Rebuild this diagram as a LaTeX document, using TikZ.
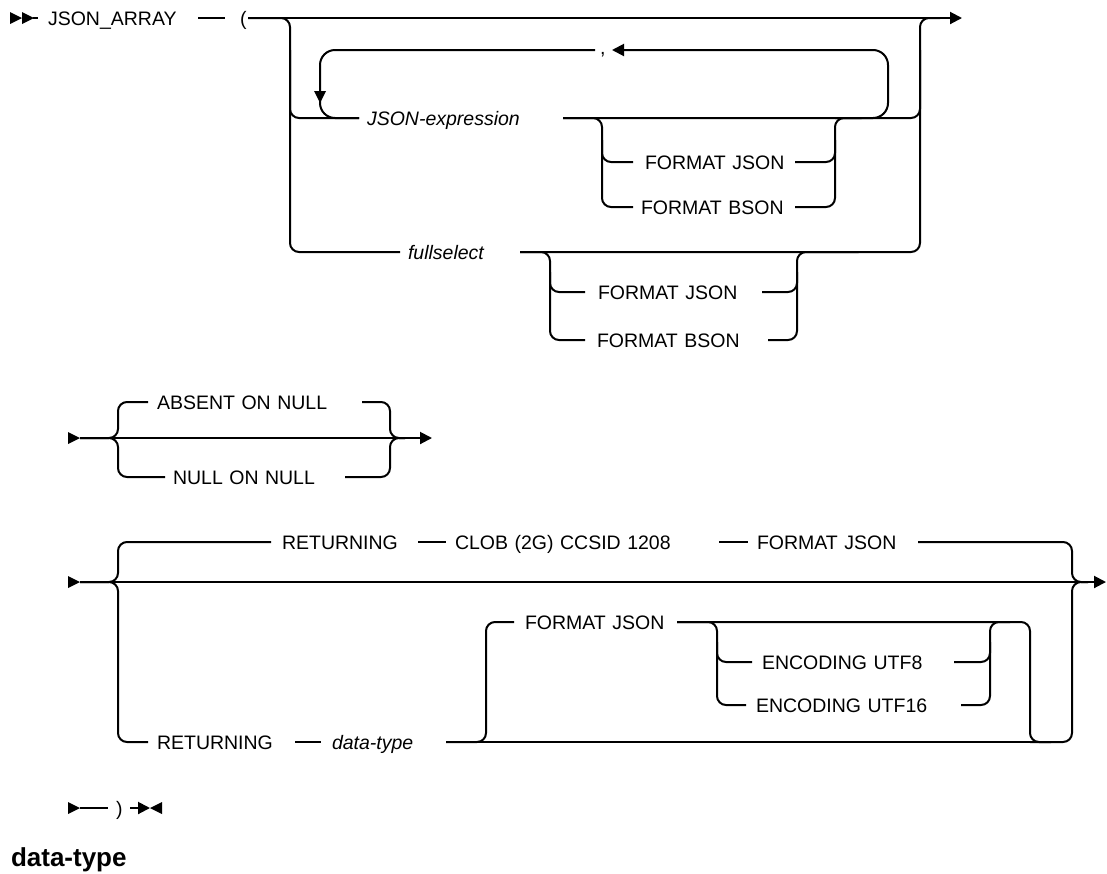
\documentclass[tikz,border=0pt]{standalone}
\usepackage{fontspec}
\setmainfont{Liberation Sans}
\usetikzlibrary{arrows.meta,calc}
\newcommand\rrfont{\fontsize{19.5}{22}\selectfont}
\tikzset{
  t/.style={anchor=west, inner sep=0pt, outer sep=0pt, text height=14pt, text depth=0pt, align=left, font=\rrfont},
  rc/.style={rounded corners=9pt},
  arr/.style={-{Triangle[length=12pt,width=12pt]}},
  sarrow/.pic={\fill (-12,-6) -- (0,0) -- (-12,6) -- cycle;},
  dstart/.pic={\fill (-28,-6) -- (-16,0) -- (-28,6) -- cycle;
               \fill (-16,-6) -- (-4,0) -- (-16,6) -- cycle;
               \draw (-5,0) -- (0,0);},
  eend/.pic={\fill (12,-6) -- (0,0) -- (12,6) -- cycle;}
}
% name, x left line end, x text start, x right line start, y, text
\newcommand\rrbox[6]{\node[t, text width=#4pt-#2pt] (#1) at (#2,#5) {\hspace*{\dimexpr #3pt-#2pt\relax}#6};}
\begin{document}
\begin{tikzpicture}[x=1pt,y=-1pt,line width=2pt]
\useasboundingbox (0,0) rectangle (1107,873);

% ---------- coordinates ----------
\coordinate (s1) at (38,18);
\coordinate (L1) at (290,18);
\coordinate (R1) at (920,18);
\coordinate (j1) at (940,18);
\coordinate (e1) at (962,18);
\coordinate (loopL) at (320,50);
\coordinate (loopR) at (888,50);
\coordinate (f1L) at (602,118);
\coordinate (f1R) at (835,118);
\coordinate (f2L) at (550,252);
\coordinate (f2R) at (797,252);
\coordinate (s2) at (80,438);
\coordinate (B2L) at (118,438);
\coordinate (B2R) at (390,438);
\coordinate (j2) at (405,438);
\coordinate (e2) at (432,438);
\coordinate (s3) at (80,582);
\coordinate (B3L) at (118,582);
\coordinate (B3R) at (1072,582);
\coordinate (j3) at (1088,582);
\coordinate (e3) at (1106,582);
\coordinate (N3L) at (486,742);
\coordinate (N3R) at (1030,742);
\coordinate (E3L) at (717,622);
\coordinate (E3R) at (990,622);
\coordinate (s4) at (80,808);
\coordinate (e4) at (150,808);

% ---------- text nodes ----------
\rrbox{jarr}{38}{48}{198}{18}{JSON\_ARRAY}
\rrbox{lpar}{225}{240}{248}{18}{(}
\node[t, text height=8pt, text width=17pt] (comma) at (595,50) {\hspace*{5pt},};
\rrbox{jexpr}{359}{367}{563}{118}{\itshape JSON-expression}
\rrbox{fj1}{633}{645}{795}{162}{FORMAT JSON}
\rrbox{fb1}{633}{641}{795}{207}{FORMAT BSON}
\rrbox{fsel}{400}{408}{520}{252}{\itshape fullselect}
\rrbox{fj2}{585}{598}{762}{292}{FORMAT JSON}
\rrbox{fb2}{585}{597}{768}{340}{FORMAT BSON}

\rrbox{abs}{148}{157}{362}{402}{ABSENT ON NULL}
\rrbox{nul}{165}{173}{345}{477}{NULL ON NULL}

\rrbox{retA}{271}{282}{418}{542}{RETURNING}
\rrbox{clob}{446}{455}{719}{542}{CLOB (2G) CCSID 1208}
\rrbox{fmtA}{748}{757}{918}{542}{FORMAT JSON}
\rrbox{retB}{148}{157}{295}{742}{RETURNING}
\rrbox{dtype}{321}{332}{446}{742}{\itshape data-type}
\rrbox{fmtB}{514}{525}{677}{622}{FORMAT JSON}
\rrbox{encA}{752}{762}{954}{662}{ENCODING UTF8}
\rrbox{encB}{746}{756}{961}{705}{ENCODING UTF16}

\rrbox{rpar}{108}{116}{130}{808}{)}

\node[anchor=base west, inner sep=0pt, font=\bfseries\fontsize{26}{30}\selectfont] (dthead) at (10,866) {data-type};

% ---------- row 1 ----------
\pic at (s1) {dstart};
\draw (jarr.east) -- (lpar.west);
\draw[arr] (lpar.east) -- (e1);
\draw[rc] (lpar.east) -| (L1 |- fsel.west) -- (fsel.west);
\draw[rc] (L1 |- loopL) |- (jexpr.west);
\draw[rounded corners=15pt] (comma.west) -| (loopL |- jexpr.west) -- (jexpr.west);
\fill ($(loopL)+(-6,41)$) -- ++(12,0) -- ++(-6,12) -- cycle;
\draw[rounded corners=15pt, arr] (f1R) -| (loopR) -- (comma.east);
\draw[rc] (jexpr.east) -| (R1 |- loopL);
\draw[rc] (fsel.east) -| (R1) -- (j1);

\draw[rc] (jexpr.east) -| (f1L |- fb1.west) -- (fb1.west);
\draw[rc] ($(f1L)!0.5!(f1L |- fj1.west)$) |- (fj1.west);
\draw[rc] (fb1.east) -| (f1R) -- ($(f1R)!0.5!(loopR |- f1R)$);
\draw[rc] (fj1.east) -| ($(f1R)!0.5!(f1R |- fj1.east)$);

\draw[rc] (fsel.east) -| (f2L |- fb2.west) -- (fb2.west);
\draw[rc] ($(f2L)!0.5!(f2L |- fj2.west)$) |- (fj2.west);
\draw[rc] (fb2.east) -| (f2R) -- ($(f2R)!0.5!(R1 |- f2R)$);
\draw[rc] (fj2.east) -| ($(f2R)!0.5!(f2R |- fj2.east)$);

% ---------- row 2 ----------
\pic at (s2) {sarrow};
\draw[arr] (s2) -- (e2);
\draw[rc] (s2) -| (B2L |- abs.west) -- (abs.west);
\draw[rc] (s2) -| (B2L |- nul.west) -- (nul.west);
\draw[rc] (abs.east) -| (B2R) -- (j2);
\draw[rc] (nul.east) -| (B2R) -- (j2);

% ---------- row 3 ----------
\pic at (s3) {sarrow};
\draw[arr] (s3) -- (e3);
\draw[rc] (s3) -| (B3L |- retA.west) -- (retA.west);
\draw[rc] (s3) -| (B3L |- retB.west) -- (retB.west);
\draw (retA.east) -- (clob.west);
\draw (clob.east) -- (fmtA.west);
\draw[rc] (fmtA.east) -| (B3R) -- (j3);
\draw (retB.east) -- (dtype.west);
\draw (dtype.east) -- (N3R);
\draw[rc] (N3R) -| (B3R) -- (j3);
\draw[rc] (dtype.east) -| (N3L |- fmtB.west) -- (fmtB.west);
\draw[rc] (fmtB.east) -| (N3R) -- ($(N3R)!0.5!(B3R |- N3R)$);
\draw[rc] (fmtB.east) -| (E3L |- encB.west) -- (encB.west);
\draw[rc] ($(E3L)!0.5!(E3L |- encA.west)$) |- (encA.west);
\draw[rc] (encB.east) -| (E3R) -- ($(E3R)!0.5!(N3R |- E3R)$);
\draw[rc] (encA.east) -| ($(E3R)!0.5!(E3R |- encA.east)$);

% ---------- row 4 ----------
\pic at (s4) {sarrow};
\draw (s4) -- (rpar.west);
\draw[arr] (rpar.east) -- (e4);
\pic at (e4) {eend};
\end{tikzpicture}
\end{document}
